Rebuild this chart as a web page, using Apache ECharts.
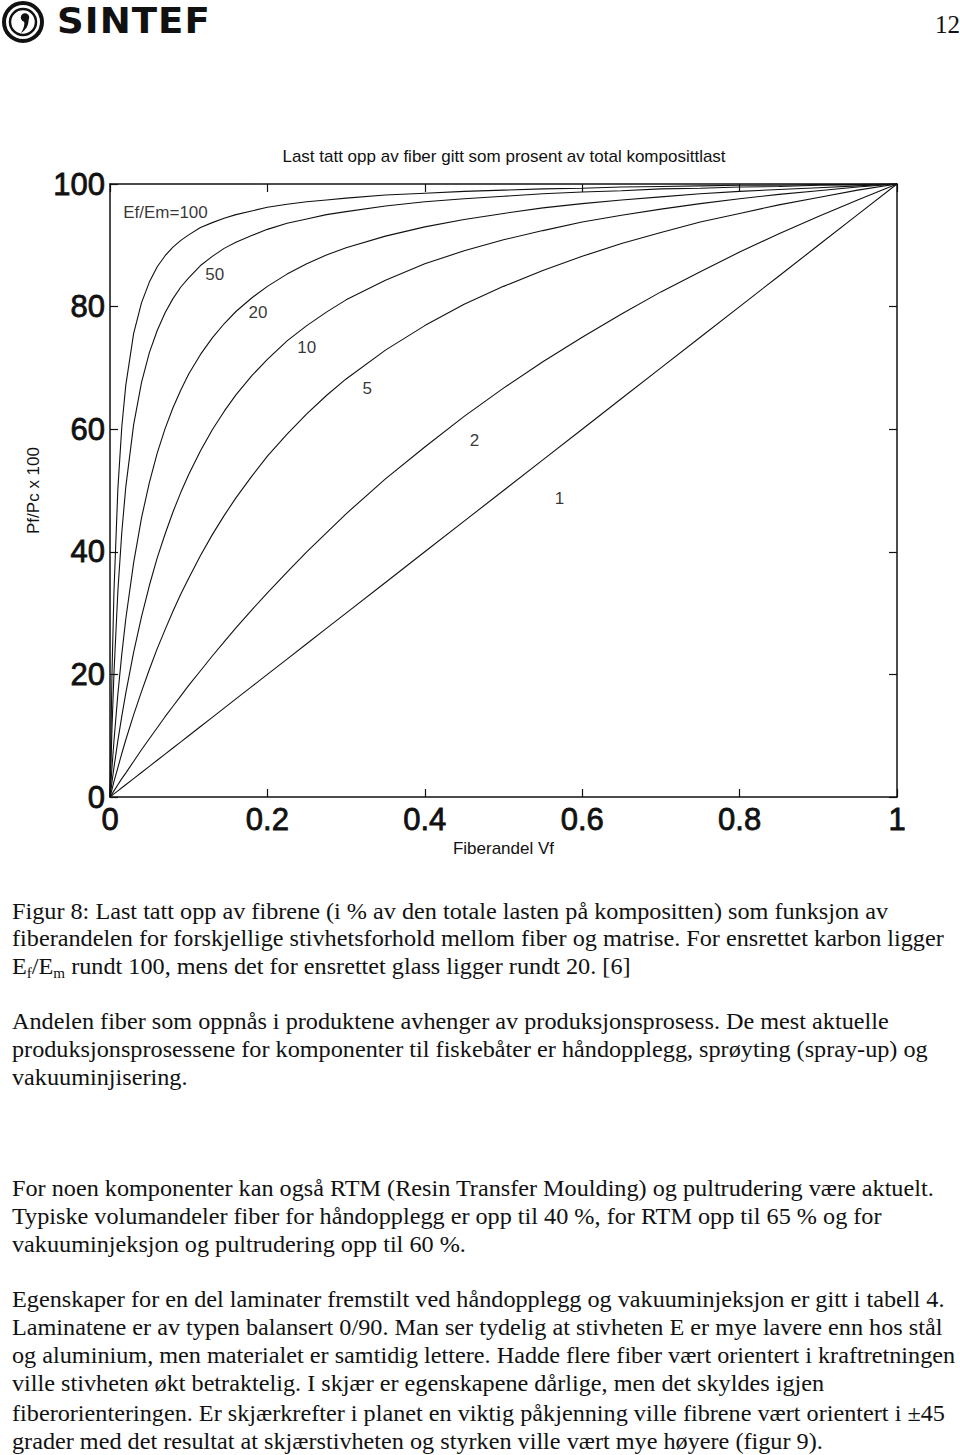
<!DOCTYPE html>
<html>
<head>
<meta charset="utf-8">
<script src="https://cdn.jsdelivr.net/npm/echarts@6/dist/echarts.min.js"></script>
<style>
  html, body { margin: 0; padding: 0; background: #fff; }
  #page { position: relative; width: 960px; height: 1455px; overflow: hidden; background: #fff; }
  #chart { position: absolute; left: 0; top: 90px; width: 960px; height: 790px; }
  .ln { position: absolute; left: 12px; white-space: nowrap; font-family: 'Liberation Serif', 'Times New Roman', serif;
        font-size: 24px; line-height: 28px; color: #111; transform-origin: 0 50%; }
  .ln sub { font-size: 15px; vertical-align: -4px; line-height: 0; }
  #pnum { position: absolute; left: 935px; top: 11px; font-family: 'Liberation Serif', serif; font-size: 25px; color: #111; }
  #brand { position: absolute; left: 57px; top: 1px; font-family: 'DejaVu Sans', sans-serif; font-weight: bold; font-size: 35px;
           color: #111; transform: scaleX(1.06); transform-origin: 0 50%; letter-spacing: 1px; }
</style>
</head>
<body>
<div id="page">
  <svg id="logo" width="50" height="46" style="position:absolute;left:0;top:0">
    <circle cx="23" cy="22" r="19" fill="none" stroke="#111" stroke-width="4"/>
    <circle cx="23" cy="22" r="13" fill="none" stroke="#111" stroke-width="2.5"/>
    <circle cx="25" cy="17.5" r="4.2" fill="#111"/>
    <path d="M28.5 19 C29 25 26 30 21 33 C24 28 25 24 24 21 Z" fill="#111"/>
  </svg>
  <div id="brand">SINTEF</div>
  <div id="pnum">12</div>
  <div id="chart"></div>
  <div id="text"></div>
</div>
<script>
// ---- data ----
const vf = [0, 0.0025, 0.005, 0.01, 0.015, 0.02, 0.03, 0.04, 0.05, 0.06, 0.07, 0.08, 0.09, 0.1, 0.115, 0.13, 0.145, 0.16, 0.18, 0.2,
            0.225, 0.25, 0.275, 0.3, 0.35, 0.4, 0.45, 0.5, 0.55, 0.6, 0.65, 0.7, 0.75, 0.8, 0.85, 0.9, 0.95, 1];
const ratio100 = [0, 20.0, 33.4, 50.3, 60.4, 67.1, 75.6, 80.6, 84.0, 86.5, 88.3, 89.7, 90.8, 91.7, 92.9, 93.7, 94.4, 95.0, 95.6, 96.2,
                  96.7, 97.1, 97.4, 97.7, 98.2, 98.5, 98.8, 99.0, 99.2, 99.3, 99.5, 99.6, 99.7, 99.8, 99.8, 99.9, 99.9, 100];
const ratio50  = [0, 11.1, 20.1, 33.6, 43.2, 50.5, 60.7, 67.6, 72.5, 76.1, 79.0, 81.3, 83.2, 84.7, 86.7, 88.2, 89.5, 90.5, 91.6, 92.6,
                  93.6, 94.3, 95.0, 95.5, 96.4, 97.1, 97.6, 98.0, 98.4, 98.7, 98.9, 99.2, 99.3, 99.5, 99.6, 99.8, 99.9, 100];
const ratio20  = [0, 4.8, 9.1, 16.8, 23.3, 29.0, 38.2, 45.5, 51.3, 56.1, 60.1, 63.5, 66.4, 69.0, 72.2, 74.9, 77.2, 79.2, 81.4, 83.3,
                  85.3, 87.0, 88.4, 89.6, 91.5, 93.0, 94.2, 95.2, 96.1, 96.8, 97.4, 97.9, 98.4, 98.8, 99.1, 99.4, 99.7, 100];
const ratio10  = [0, 2.4, 4.8, 9.2, 13.2, 16.9, 23.6, 29.4, 34.5, 39.0, 42.9, 46.5, 49.7, 52.6, 56.5, 59.9, 62.9, 65.6, 68.7, 71.4,
                  74.4, 76.9, 79.1, 81.1, 84.3, 87.0, 89.1, 90.9, 92.4, 93.8, 94.9, 95.9, 96.8, 97.6, 98.3, 98.9, 99.5, 100];
const ratio5   = [0, 1.2, 2.5, 4.8, 7.1, 9.3, 13.4, 17.2, 20.8, 24.2, 27.3, 30.3, 33.1, 35.7, 39.4, 42.8, 45.9, 48.8, 52.3, 55.6,
                  59.2, 62.5, 65.5, 68.2, 72.9, 76.9, 80.4, 83.3, 85.9, 88.2, 90.3, 92.1, 93.8, 95.2, 96.6, 97.8, 99.0, 100];
const ratio2   = [0, 0.5, 1.0, 2.0, 3.0, 3.9, 5.8, 7.7, 9.5, 11.3, 13.1, 14.8, 16.5, 18.2, 20.6, 23.0, 25.3, 27.6, 30.5, 33.3,
                  36.7, 40.0, 43.1, 46.2, 51.9, 57.1, 62.1, 66.7, 71.0, 75.0, 78.8, 82.4, 85.7, 88.9, 91.9, 94.7, 97.4, 100];
const ratio1   = [0, 0.25, 0.5, 1, 1.5, 2, 3, 4, 5, 6, 7, 8, 9, 10, 11.5, 13, 14.5, 16, 18, 20,
                  22.5, 25, 27.5, 30, 35, 40, 45, 50, 55, 60, 65, 70, 75, 80, 85, 90, 95, 100];
const curveSets = [ratio100, ratio50, ratio20, ratio10, ratio5, ratio2, ratio1];
const curveNames = ['100', '50', '20', '10', '5', '2', '1'];

const curveLabelText = ['Ef/Em=100', '50', '20', '10', '5', '2', '1'];
const curveLabelX = [0.0705, 0.133, 0.188, 0.250, 0.327, 0.463, 0.571];
const curveLabelY = [95.3, 85.3, 79.1, 73.4, 66.6, 58.2, 48.7];

const xTickLabels = ['0', '0.2', '0.4', '0.6', '0.8', '1'];
const yTickLabels = ['0', '20', '40', '60', '80', '100'];

const chartTitle = 'Last tatt opp av fiber gitt som prosent av total komposittlast';
const xName = 'Fiberandel Vf';
const yName = 'Pf/Pc x 100';

// ---- chart ----
const chart = echarts.init(document.getElementById('chart'), null, { renderer: 'svg' });
const axisLineStyle = { color: '#111', width: 1.5 };
const tickStyle = { color: '#111', width: 1.2 };
const sansFont = "'Liberation Sans', Arial, sans-serif";
const tickFont = { fontSize: 31, color: '#111', fontFamily: sansFont, textBorderColor: '#111', textBorderWidth: 0.8 };

const series = curveSets.map((vals, k) => ({
  type: 'line',
  name: curveNames[k],
  data: vf.map((x, i) => [x, vals[i]]),
  showSymbol: false,
  smooth: false,
  lineStyle: { color: '#111', width: 1.1 },
  silent: true,
  z: 3
}));
series.push({
  type: 'scatter',
  name: 'labels',
  data: curveLabelText.map((t, i) => [curveLabelX[i], curveLabelY[i], t]),
  symbol: 'circle',
  symbolSize: 1,
  itemStyle: { color: 'rgba(0,0,0,0)' },
  label: {
    show: true, position: 'inside',
    formatter: p => p.data[2],
    color: '#000', fontSize: 17, fontFamily: sansFont
  },
  silent: true,
  z: 4
});

chart.setOption({
  animation: false,
  backgroundColor: 'transparent',
  grid: { left: 110, top: 94, width: 787, height: 613, containLabel: false },
  graphic: [{
    type: 'text', x: 504, y: 66,
    style: { text: chartTitle, fill: '#111', fontSize: 17, fontFamily: sansFont, textAlign: 'center', textVerticalAlign: 'middle' }
  }],
  xAxis: [{
    type: 'value', min: 0, max: 1, interval: 0.2, position: 'bottom',
    axisLine: { onZero: false, lineStyle: axisLineStyle },
    axisTick: { inside: true, length: 8, lineStyle: tickStyle },
    axisLabel: Object.assign({ margin: 7, formatter: v => xTickLabels[Math.round(v / 0.2)] }, tickFont),
    splitLine: { show: false },
    name: xName, nameLocation: 'middle', nameGap: 38,
    nameTextStyle: { fontSize: 17, color: '#111', fontFamily: sansFont }
  }, {
    type: 'value', min: 0, max: 1, interval: 0.2, position: 'top',
    axisLine: { onZero: false, lineStyle: axisLineStyle },
    axisTick: { inside: true, length: 8, lineStyle: tickStyle },
    axisLabel: { show: false }, splitLine: { show: false }
  }],
  yAxis: [{
    type: 'value', min: 0, max: 100, interval: 20, position: 'left',
    axisLine: { show: true, onZero: false, lineStyle: axisLineStyle },
    axisTick: { show: true, inside: true, length: 8, lineStyle: tickStyle },
    axisLabel: Object.assign({ margin: 5, formatter: v => yTickLabels[Math.round(v / 20)] }, tickFont),
    splitLine: { show: false },
    name: yName, nameLocation: 'middle', nameGap: 61,
    nameTextStyle: { fontSize: 17, color: '#111', fontFamily: sansFont }
  }, {
    type: 'value', min: 0, max: 100, interval: 20, position: 'right',
    axisLine: { show: true, onZero: false, lineStyle: axisLineStyle },
    axisTick: { show: true, inside: true, length: 8, lineStyle: tickStyle },
    axisLabel: { show: false }, splitLine: { show: false }
  }],
  series: series
});

// ---- body text ----
const textLines = [
  [911, 'Figur 8: Last tatt opp av fibrene (i % av den totale lasten på kompositten) som funksjon av'],
  [938, 'fiberandelen for forskjellige stivhetsforhold mellom fiber og matrise. For ensrettet karbon ligger'],
  [966, 'E<sub>f</sub>/E<sub>m</sub> rundt 100, mens det for ensrettet glass ligger rundt 20. [6]'],
  [1021, 'Andelen fiber som oppnås i produktene avhenger av produksjonsprosess. De mest aktuelle'],
  [1049, 'produksjonsprosessene for komponenter til fiskebåter er håndopplegg, sprøyting (spray-up) og'],
  [1077, 'vakuuminjisering.'],
  [1188, 'For noen komponenter kan også RTM (Resin Transfer Moulding) og pultrudering være aktuelt.'],
  [1216, 'Typiske volumandeler fiber for håndopplegg er opp til 40 %, for RTM opp til 65 % og for'],
  [1244, 'vakuuminjeksjon og pultrudering opp til 60 %.'],
  [1299, 'Egenskaper for en del laminater fremstilt ved håndopplegg og vakuuminjeksjon er gitt i tabell 4.'],
  [1327, 'Laminatene er av typen balansert 0/90. Man ser tydelig at stivheten E er mye lavere enn hos stål'],
  [1355, 'og aluminium, men materialet er samtidig lettere. Hadde flere fiber vært orientert i kraftretningen'],
  [1383, 'ville stivheten økt betraktelig. I skjær er egenskapene dårlige, men det skyldes igjen'],
  [1413, 'fiberorienteringen. Er skjærkrefter i planet en viktig påkjenning ville fibrene vært orientert i ±45'],
  [1441, 'grader med det resultat at skjærstivheten og styrken ville vært mye høyere (figur 9).']
];
const holder = document.getElementById('text');
const els = textLines.map(([y, html]) => {
  const d = document.createElement('div');
  d.className = 'ln';
  d.style.top = (y - 14) + 'px';
  d.innerHTML = html;
  holder.appendChild(d);
  return d;
});
// uniform horizontal squeeze so the first line spans 12..888 as in the reference
const w0 = els[0].getBoundingClientRect().width;
const s = 876 / w0;
els.forEach(d => { d.style.transform = 'scaleX(' + s.toFixed(4) + ')'; });
</script>
</body>
</html>
